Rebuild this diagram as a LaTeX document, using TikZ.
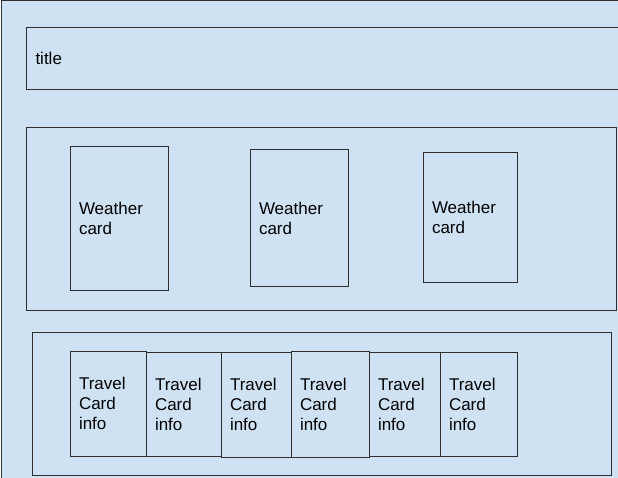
\documentclass[tikz,border=0pt]{standalone}
\usepackage{fontspec}
\setmainfont{Liberation Sans}
\definecolor{bgblue}{HTML}{CFE2F3}
\definecolor{edge}{HTML}{2E2E2E}
\begin{document}
\begin{tikzpicture}[x=1pt,y=-1pt,
  panel/.style={draw=edge, line width=1pt, fill=bgblue, rectangle, inner sep=0pt},
  card/.style={draw=edge, line width=1pt, fill=bgblue, rectangle, inner ysep=0pt, inner xsep=9pt,
    align=left, font=\fontsize{17}{20}\selectfont, text=black}]
\useasboundingbox (0,0) rectangle (618,478);
\clip (0,0) rectangle (618,478);
% outer page
\node[panel, anchor=north west, minimum width=640pt, minimum height=500pt] (page) at (0.5,0.5) {};
% title bar
\node[card, anchor=north west, minimum width=600pt, text width=582pt, minimum height=62pt] (title) at (26,27) {title};
% weather row
\node[panel, anchor=north west, minimum width=590pt, minimum height=183pt] (wrow) at (26,127) {};
\node[card, minimum width=98pt, text width=80pt, minimum height=143pt] (w1) at (119,218.5) {Weather\\card};
\node[card, minimum width=98pt, text width=80pt, minimum height=136pt] (w2) at (299,218) {Weather\\card};
\node[card, minimum width=94pt, text width=76pt, minimum height=129pt] (w3) at (470,217.5) {Weather\\card};
% travel row
\node[panel, anchor=north west, minimum width=579pt, minimum height=143pt] (trow) at (32,332) {};
\node[card, minimum width=76pt, text width=58pt, minimum height=105pt] (t1) at (108,403.5) {Travel\\Card\\info};
\node[card, minimum width=75pt, text width=57pt, minimum height=104pt] (t2) at (183.5,404) {Travel\\Card\\info};
\node[card, minimum width=70pt, text width=52pt, minimum height=105pt] (t3) at (256,404.5) {Travel\\Card\\info};
\node[card, minimum width=78pt, text width=60pt, minimum height=106pt] (t4) at (330,404) {Travel\\Card\\info};
\node[card, minimum width=71pt, text width=53pt, minimum height=104pt] (t5) at (404.5,404) {Travel\\Card\\info};
\node[card, minimum width=77pt, text width=59pt, minimum height=104pt] (t6) at (478.5,404) {Travel\\Card\\info};
\end{tikzpicture}
\end{document}
